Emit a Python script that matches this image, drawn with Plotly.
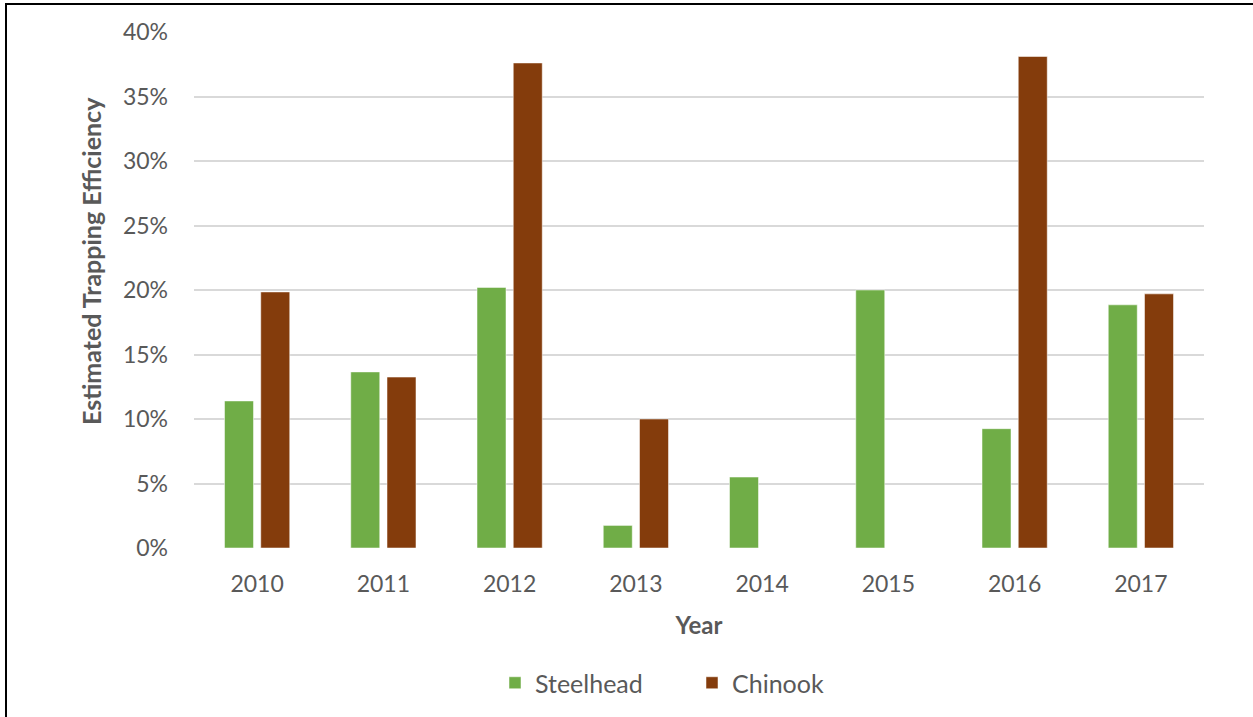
import plotly.graph_objects as go

years = ["2010", "2011", "2012", "2013", "2014", "2015", "2016", "2017"]
steelhead = [11.4, 13.65, 20.2, 1.75, 5.5, 20.0, 9.25, 18.85]
chinook = [19.85, 13.25, 37.6, 10.0, None, None, 38.1, 19.7]
y_ticks = [0, 5, 10, 15, 20, 25, 30, 35, 40]
y_tick_labels = [f"{v}%" for v in y_ticks]

W, H = 1253, 717
L, R, T, B = 194, 49, 32, 169
pw, ph = W - L - R, H - T - B

font_family = "Lato, 'Open Sans', sans-serif"
grey = "#595959"

fig = go.Figure()
fig.add_trace(go.Bar(x=years, y=steelhead, name="Steelhead",
                     marker=dict(color="#70AD47", line=dict(color="#ffffff", width=0.5))))
fig.add_trace(go.Bar(x=years, y=chinook, name="Chinook",
                     marker=dict(color="#843C0C", line=dict(color="#ffffff", width=0.5))))


def px_x(p):
    return (p - L) / pw


def px_y(p):
    return (H - B - p) / ph


# Outer frame around the chart area
fig.add_shape(type="rect", xref="paper", yref="paper",
              x0=px_x(6), x1=px_x(1262), y0=px_y(4), y1=px_y(730),
              line=dict(color="black", width=2), fillcolor="rgba(0,0,0,0)", layer="above")

# Vertical value-axis title
fig.add_annotation(text="<b>Estimated Trapping Efficiency</b>", textangle=-90,
                   xref="paper", yref="paper", x=px_x(91), y=px_y(261),
                   xanchor="center", yanchor="middle", showarrow=False,
                   font=dict(size=25, color=grey, family=font_family))

fig.update_layout(
    width=W, height=H,
    margin=dict(l=L, r=R, t=T, b=B, autoexpand=False),
    paper_bgcolor="white", plot_bgcolor="white",
    barmode="group", bargap=0.426, bargroupgap=0.2,
    font=dict(family=font_family, color=grey, size=23),
    showlegend=True,
    legend=dict(orientation="h", x=px_x(495), xanchor="left", y=px_y(683), yanchor="middle",
                font=dict(size=25, color=grey), entrywidth=152, entrywidthmode="pixels",
                itemclick=False),
    xaxis=dict(
        title=dict(text="<b>Year</b>", font=dict(size=24, color=grey), standoff=21),
        tickfont=dict(size=23, color=grey), ticklabelstandoff=20,
        showgrid=False, showline=False, ticks="", zeroline=False,
    ),
    yaxis=dict(
        range=[0, 40], tickvals=y_ticks, ticktext=y_tick_labels,
        tickfont=dict(size=23, color=grey),
        showgrid=True, gridcolor="#D9D9D9", gridwidth=1.5,
        zeroline=False, showline=False, ticks="", ticklabelstandoff=25,
    ),
)

fig.write_html("out.html")
